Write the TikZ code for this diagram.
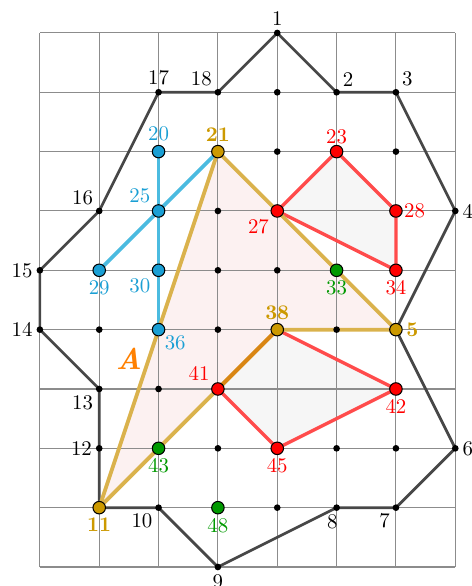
\documentclass[tikz,border=0pt]{standalone}
\usetikzlibrary{backgrounds}
\definecolor{goldC}{HTML}{CC9900}
\definecolor{goldL}{HTML}{DAB24C}
\definecolor{blueC}{HTML}{1A9FD4}
\definecolor{blueL}{HTML}{4BBBE0}
\definecolor{redC}{HTML}{FF0000}
\definecolor{redL}{HTML}{FF4B4B}
\definecolor{greenC}{HTML}{009900}
\definecolor{orangeC}{HTML}{D98614}
\definecolor{pinkF}{HTML}{FCF1F1}
\definecolor{grayF}{HTML}{F6F6F6}
\tikzset{
  gridline/.style={draw=black!45, line width=0.5pt},
  border/.style={draw=black!72, line width=1.3pt, line join=round},
  yline/.style={draw=goldL, line width=1.8pt, line join=round},
  bline/.style={draw=blueL, line width=1.8pt},
  rline/.style={draw=redL, line width=1.6pt, line join=round},
  pt/.style={circle, fill=black, inner sep=0pt, minimum size=3.2pt},
  bigpt/.style={circle, draw=black, line width=0.5pt, inner sep=0pt, minimum size=6pt},
  gpt/.style={bigpt, fill=goldC},
  bpt/.style={bigpt, fill=blueC},
  rpt/.style={bigpt, fill=redC},
  grpt/.style={bigpt, fill=greenC},
  every label/.style={inner sep=1.5pt},
}
\begin{document}
\begin{tikzpicture}
\useasboundingbox (-0.672,-0.32) rectangle (7.27,9.555);

% boundary points
\node[pt, label=above:1] (p1) at (4,9) {};
\node[pt, label=above right:2] (p2) at (5,8) {};
\node[pt, label=above right:3] (p3) at (6,8) {};
\node[pt, label=right:4] (p4) at (7,6) {};
\node[gpt, label={[text=goldC]right:\textbf{5}}] (p5) at (6,4) {};
\node[pt, label=right:6] (p6) at (7,2) {};
\node[pt, label=below left:7] (p7) at (6,1) {};
\node[pt, label={[xshift=-2pt]below:8}] (p8) at (5,1) {};
\node[pt, label=below:9] (p9) at (3,0) {};
\node[pt, label=below left:10] (p10) at (2,1) {};
\node[gpt, label={[text=goldC]below:\textbf{11}}] (p11) at (1,1) {};
\node[pt, label=left:12] (p12) at (1,2) {};
\node[pt, label=below left:13] (p13) at (1,3) {};
\node[pt, label=left:14] (p14) at (0,4) {};
\node[pt, label=left:15] (p15) at (0,5) {};
\node[pt, label=above left:16] (p16) at (1,6) {};
\node[pt, label=above:17] (p17) at (2,8) {};
\node[pt, label=above left:18] (p18) at (3,8) {};

% inner points
\node[pt] (p19) at (4,8) {};
\node[bpt, label={[text=blueC]above:20}] (p20) at (2,7) {};
\node[gpt, label={[text=goldC]above:\textbf{21}}] (p21) at (3,7) {};
\node[pt] (p22) at (4,7) {};
\node[rpt, label={[text=redC,inner sep=0pt]above:23}] (p23) at (5,7) {};
\node[pt] (p24) at (6,7) {};
\node[bpt, label={[text=blueC]above left:25}] (p25) at (2,6) {};
\node[pt] (p26) at (3,6) {};
\node[rpt, label={[text=redC]below left:27}] (p27) at (4,6) {};
\node[rpt, label={[text=redC,inner sep=0.5pt]right:28}] (p28) at (6,6) {};
\node[bpt, label={[text=blueC]below:29}] (p29) at (1,5) {};
\node[bpt, label={[text=blueC]below left:30}] (p30) at (2,5) {};
\node[pt] (p31) at (3,5) {};
\node[pt] (p32) at (4,5) {};
\node[grpt, label={[text=greenC]below:33}] (p33) at (5,5) {};
\node[rpt, label={[text=redC]below:34}] (p34) at (6,5) {};
\node[pt] (p35) at (1,4) {};
\node[bpt, label={[text=blueC,inner sep=0.5pt]below right:36}] (p36) at (2,4) {};
\node[pt] (p37) at (3,4) {};
\node[gpt, label={[text=goldC]above:\textbf{38}}] (p38) at (4,4) {};
\node[pt] (p39) at (5,4) {};
\node[pt] (p40) at (2,3) {};
\node[rpt, label={[text=redC]above left:41}] (p41) at (3,3) {};
\node[rpt, label={[text=redC]below:42}] (p42) at (6,3) {};
\node[grpt, label={[text=greenC]below:43}] (p43) at (2,2) {};
\node[pt] (p44) at (3,2) {};
\node[rpt, label={[text=redC]below:45}] (p45) at (4,2) {};
\node[pt] (p46) at (5,2) {};
\node[pt] (p47) at (6,2) {};
\node[grpt, label={[text=greenC]below:48}] (p48) at (3,1) {};
\node[pt] (p49) at (4,1) {};

\node[text=orange, font=\Large\bfseries\itshape] (lA) at (1.5,3.5) {A};

\begin{scope}[on background layer]
  \fill[pinkF] (p11.center) -- (p21.center) -- (p5.center) -- (p38.center) -- cycle;
  \fill[grayF] (p27.center) -- (p23.center) -- (p28.center) -- (p34.center) -- cycle;
  \fill[grayF] (p38.center) -- (p42.center) -- (p45.center) -- (p41.center) -- cycle;
  \draw[gridline] (0,0) grid (7,9);
  \draw[border] (p1.center) -- (p2.center) -- (p3.center) -- (p4.center) -- (p5.center)
    -- (p6.center) -- (p7.center) -- (p8.center) -- (p9.center) -- (p10.center)
    -- (p11.center) -- (p12.center) -- (p13.center) -- (p14.center) -- (p15.center)
    -- (p16.center) -- (p17.center) -- (p18.center) -- cycle;
  \draw[bline] (p20.center) -- (p36.center);
  \draw[bline] (p21.center) -- (p29.center);
  \draw[rline] (p27.center) -- (p23.center) -- (p28.center) -- (p34.center) -- cycle;
  \draw[rline] (p41.center) -- (p45.center) -- (p42.center) -- (p38.center);
  \draw[yline] (p38.center) -- (p11.center) -- (p21.center) -- (p5.center) -- (p38.center);
  \draw[draw=orangeC, line width=1.8pt] (p41.center) -- (p38.center);
\end{scope}
\end{tikzpicture}
\end{document}
